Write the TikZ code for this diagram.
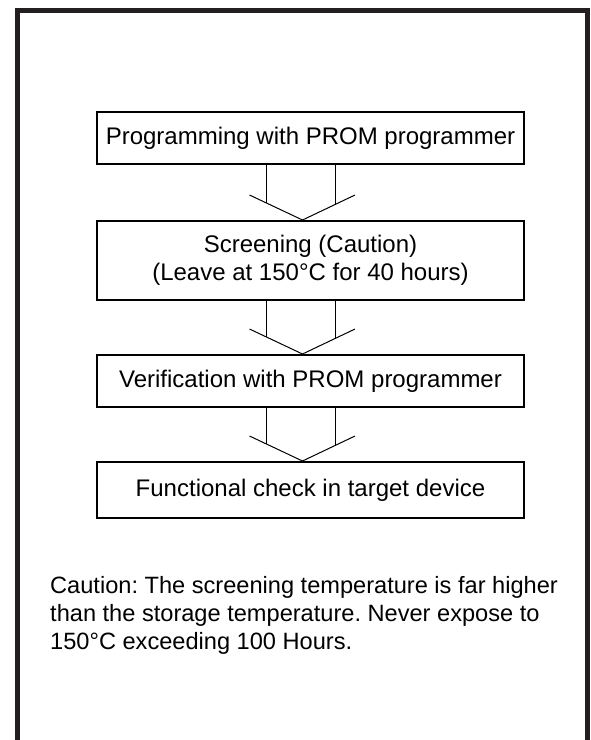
\documentclass[tikz,border=0pt]{standalone}
\usepackage{fontspec}
\setmainfont{Liberation Sans}
\usetikzlibrary{calc}
\definecolor{framecol}{RGB}{35,31,32}
\frenchspacing
\tikzset{
  stepbox/.style={draw, line width=2pt, minimum width=427pt, inner sep=0pt,
    font=\fontsize{24}{28}\selectfont, align=center},
  arrowline/.style={line width=1pt, line join=miter},
  framebox/.style={line width=5pt, color=framecol, line join=miter},
  notetext/.style={anchor=north west, inner sep=0pt, align=left,
    font=\fontsize{23.6}{27.6}\selectfont},
}
\newcommand{\hollowarrow}[2]{%
  \coordinate (tip-#2) at ($(#2.north)+(-8,0)$);
  \coordinate (wl-#2) at ($(tip-#2)+(-53,-25)$);
  \coordinate (wr-#2) at ($(tip-#2)+(52.5,-25)$);
  \coordinate (vl-#2) at ($(tip-#2)+(-35.8,-16.9)$);
  \coordinate (vr-#2) at ($(tip-#2)+(32.5,-15.5)$);
  \draw[arrowline] (wl-#2) -- (tip-#2) -- (wr-#2);
  \draw[arrowline] (vl-#2 |- #1.south) -- (vl-#2);
  \draw[arrowline] (vr-#2 |- #1.south) -- (vr-#2);
}
\begin{document}
\begin{tikzpicture}[x=1pt,y=-1pt]
\useasboundingbox (0,0) rectangle (591,740);
\fill[white] (0,0) rectangle (591,740);
\draw[framebox] (17.7,740) -- (17.7,10) -- (587,10) -- (587,740);
\node[stepbox, minimum height=52pt] (b1) at (310.5,138) {Programming with PROM programmer};
\node[stepbox, minimum height=79pt] (b2) at (310.5,260.5) {Screening (Caution)\\(Leave at 150°C for 40 hours)};
\node[stepbox, minimum height=52pt] (b3) at (310.5,381) {Verification with PROM programmer};
\node[stepbox, minimum height=56pt] (b4) at (310.5,490) {Functional check in target device};
\hollowarrow{b1}{b2}
\hollowarrow{b2}{b3}
\hollowarrow{b3}{b4}
\node[notetext] (note) at (50,576.5)
  {Caution: The screening temperature is far higher\\than the storage temperature. Never expose to\\150°C exceeding 100 Hours.};
\end{tikzpicture}
\end{document}
